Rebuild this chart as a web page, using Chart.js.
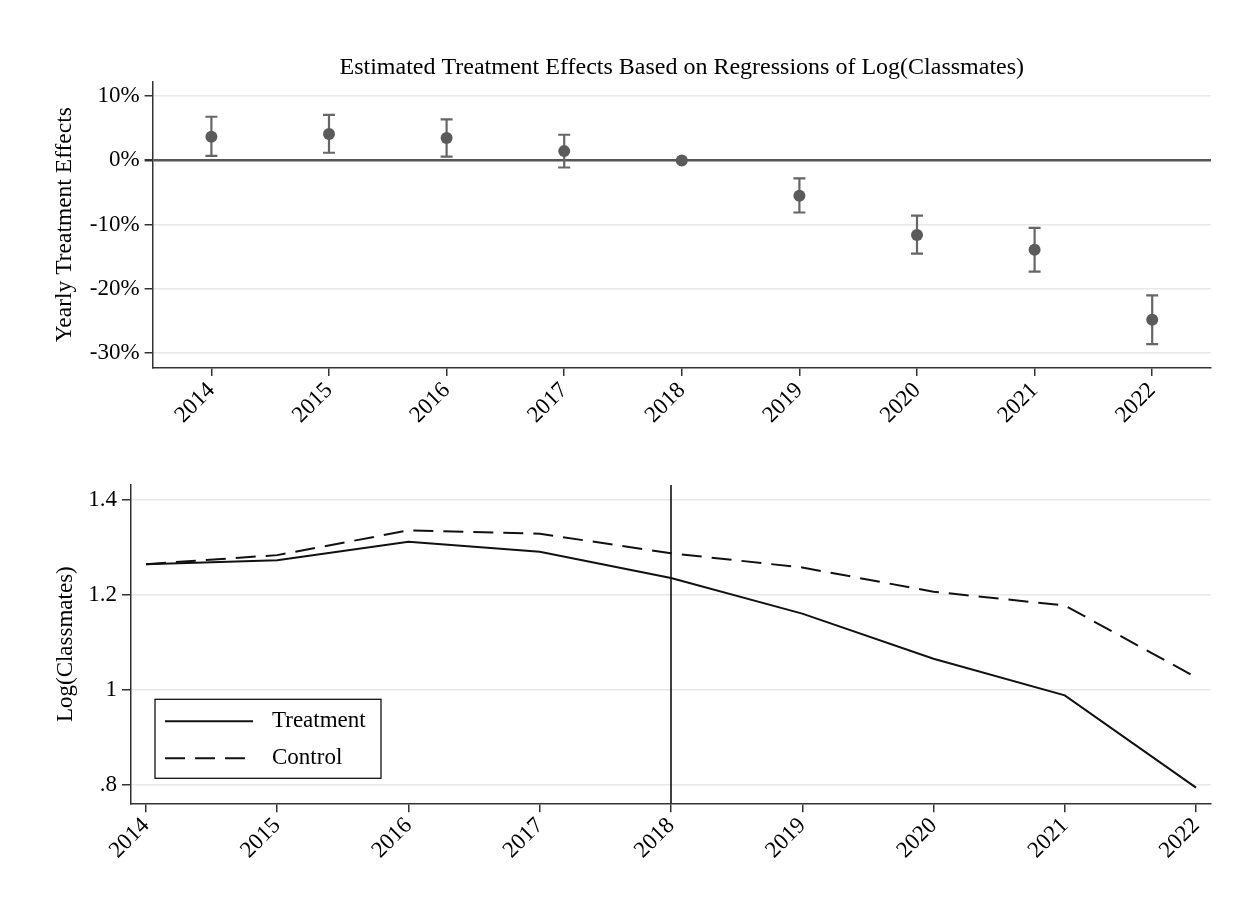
<!DOCTYPE html>
<html>
<head>
<meta charset="utf-8">
<script src="https://cdn.jsdelivr.net/npm/chart.js@4.4.0/dist/chart.umd.min.js"></script>
<style>
body { margin: 0; background: #fff; }
canvas { position: absolute; left: 0; }
#effects { top: 0; }
#levels { top: 440px; }
</style>
</head>
<body>
<canvas id="effects" width="1251" height="440"></canvas>
<canvas id="levels" width="1251" height="470"></canvas>
<script>
// data
const years = [2014, 2015, 2016, 2017, 2018, 2019, 2020, 2021, 2022];
const effects = [3.7, 4.1, 3.5, 1.45, 0, -5.5, -11.6, -13.9, -24.8];
const ciLow = [0.7, 1.2, 0.6, -1.1, null, -8.1, -14.5, -17.3, -28.6];
const ciHigh = [6.8, 7.1, 6.4, 4.0, null, -2.8, -8.6, -10.5, -21.0];
const effectTicks = [-30, -20, -10, 0, 10];

const treatment = [1.265, 1.273, 1.312, 1.291, 1.236, 1.161, 1.066, 0.989, 0.795];
const control = [1.265, 1.284, 1.336, 1.329, 1.288, 1.258, 1.207, 1.178, 1.027];
const levelTicks = [0.8, 1, 1.2, 1.4];
const levelTickLabels = ['.8', '1', '1.2', '1.4'];
const eventYear = 2018;

Chart.defaults.font.family = '"Liberation Serif", "Times New Roman", serif';
Chart.defaults.color = '#000';

const markColor = '#5b5b5b';

const errorBars = {
  id: 'errorBars',
  beforeDatasetsDraw(chart) {
    const { ctx, scales: { x, y } } = chart;
    ctx.save();
    ctx.strokeStyle = '#666';
    ctx.lineWidth = 2.2;
    years.forEach((yr, i) => {
      if (ciLow[i] == null) return;
      const px = x.getPixelForValue(yr);
      const top = y.getPixelForValue(ciHigh[i]);
      const bot = y.getPixelForValue(ciLow[i]);
      ctx.beginPath();
      ctx.moveTo(px, top); ctx.lineTo(px, bot);
      ctx.moveTo(px - 6, top); ctx.lineTo(px + 6, top);
      ctx.moveTo(px - 6, bot); ctx.lineTo(px + 6, bot);
      ctx.stroke();
    });
    ctx.restore();
  }
};

const eventLine = {
  id: 'eventLine',
  beforeDatasetsDraw(chart) {
    const { ctx, chartArea, scales: { x } } = chart;
    const px = x.getPixelForValue(eventYear);
    ctx.save();
    ctx.strokeStyle = '#111';
    ctx.lineWidth = 1.6;
    ctx.beginPath();
    ctx.moveTo(px, chartArea.top);
    ctx.lineTo(px, chartArea.bottom);
    ctx.stroke();
    ctx.restore();
  }
};

const boxLegend = {
  id: 'boxLegend',
  afterDraw(chart) {
    const { ctx, chartArea } = chart;
    const left = chartArea.left + 24, w = 226, h = 79;
    const top = chartArea.bottom - 25 - h;
    ctx.save();
    ctx.fillStyle = '#fff';
    ctx.fillRect(left, top, w, h);
    ctx.strokeStyle = '#111';
    ctx.lineWidth = 1.3;
    ctx.strokeRect(left, top, w, h);
    chart.data.datasets.forEach((ds, i) => {
      const y = top + 22 + i * 37;
      ctx.strokeStyle = ds.borderColor;
      ctx.lineWidth = ds.borderWidth;
      ctx.setLineDash(ds.borderDash || []);
      ctx.beginPath();
      ctx.moveTo(left + 10, y);
      ctx.lineTo(left + 98, y);
      ctx.stroke();
      ctx.setLineDash([]);
      ctx.fillStyle = '#000';
      ctx.font = '23px "Liberation Serif"';
      ctx.textBaseline = 'middle';
      ctx.fillText(ds.label, left + 117, y);
    });
    ctx.restore();
  }
};

new Chart(document.getElementById('effects'), {
  type: 'scatter',
  data: {
    datasets: [{
      label: 'Yearly Treatment Effects',
      data: years.map((yr, i) => ({ x: yr, y: effects[i] })),
      pointRadius: 6,
      pointBackgroundColor: markColor,
      pointBorderColor: markColor,
      pointBorderWidth: 0
    }]
  },
  options: {
    responsive: false,
    animation: false,
    layout: { padding: { left: 0, right: 40, top: 0, bottom: 0 } },
    plugins: {
      legend: { display: false },
      tooltip: { enabled: false },
      title: {
        display: true,
        text: 'Estimated Treatment Effects Based on Regressions of Log(Classmates)',
        fullSize: false,
        color: '#000',
        font: { size: 24, weight: 'normal', lineHeight: 1.1 },
        padding: { top: 55, bottom: 0 }
      }
    },
    scales: {
      x: {
        type: 'linear',
        min: 2013.5,
        max: 2022.5,
        afterBuildTicks: s => { s.ticks = years.map(v => ({ value: v })); },
        afterFit: s => { s.height = 72; },
        ticks: { autoSkip: false, minRotation: 45, maxRotation: 45, font: { size: 23 }, padding: 1, callback: v => String(v) },
        grid: { drawOnChartArea: false, tickLength: 8, color: '#333', lineWidth: 1.5 },
        border: { color: '#333', width: 1.5 }
      },
      y: {
        min: -32.3,
        max: 12.3,
        afterBuildTicks: s => { s.ticks = effectTicks.map(v => ({ value: v })); },
        afterFit: s => { s.width = 152.6; },
        ticks: { font: { size: 23 }, padding: 5, callback: v => v + '%' },
        grid: {
          color: c => c.tick && c.tick.value === 0 ? '#555' : '#e8e8e8',
          lineWidth: c => c.tick && c.tick.value === 0 ? 2.5 : 1.5,
          tickColor: '#333',
          tickLength: 8
        },
        border: { color: '#333', width: 1.5 },
        title: { display: true, text: 'Yearly Treatment Effects', font: { size: 23.5 }, padding: { top: 51 } }
      }
    }
  },
  plugins: [errorBars]
});

new Chart(document.getElementById('levels'), {
  type: 'line',
  data: {
    datasets: [{
      label: 'Treatment',
      data: years.map((yr, i) => ({ x: yr, y: treatment[i] })),
      borderColor: '#111',
      borderWidth: 2,
      pointRadius: 0,
      tension: 0
    }, {
      label: 'Control',
      data: years.map((yr, i) => ({ x: yr, y: control[i] })),
      borderColor: '#111',
      borderWidth: 2,
      borderDash: [20, 10],
      pointRadius: 0,
      tension: 0
    }]
  },
  options: {
    responsive: false,
    animation: false,
    layout: { padding: { left: 0, right: 40, top: 45, bottom: 0 } },
    plugins: {
      legend: { display: false },
      tooltip: { enabled: false }
    },
    scales: {
      x: {
        type: 'linear',
        min: 2013.886,
        max: 2022.114,
        afterBuildTicks: s => { s.ticks = years.map(v => ({ value: v })); },
        afterFit: s => { s.height = 106.7; },
        ticks: { autoSkip: false, minRotation: 45, maxRotation: 45, font: { size: 23 }, padding: 0, callback: v => String(v) },
        grid: { drawOnChartArea: false, tickLength: 9, color: '#333', lineWidth: 1.5 },
        border: { color: '#333', width: 1.5 }
      },
      y: {
        min: 0.762,
        max: 1.4315,
        afterBuildTicks: s => { s.ticks = levelTicks.map(v => ({ value: v })); },
        afterFit: s => { s.width = 131; },
        ticks: { font: { size: 23 }, padding: 5, callback: (v, i) => levelTickLabels[i] },
        grid: { color: '#e8e8e8', lineWidth: 1.5, tickColor: '#333', tickLength: 9 },
        border: { color: '#333', width: 1.5 },
        title: { display: true, text: 'Log(Classmates)', font: { size: 23 }, padding: { top: 52 } }
      }
    }
  },
  plugins: [eventLine, boxLegend]
});
</script>
</body>
</html>
